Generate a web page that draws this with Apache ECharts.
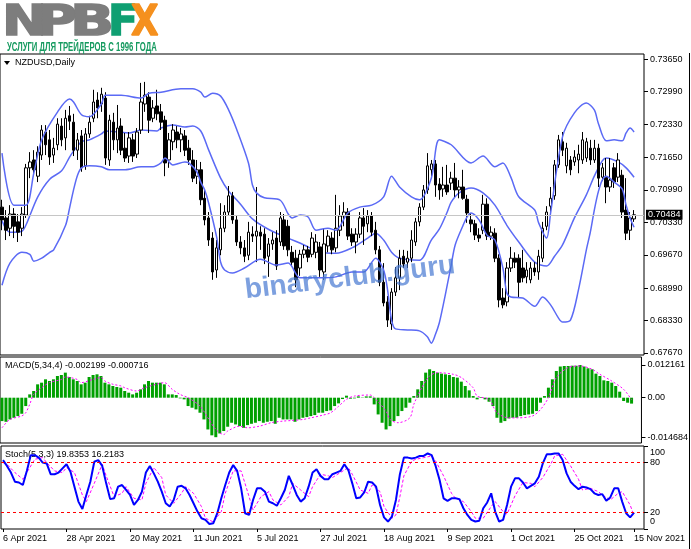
<!DOCTYPE html>
<html><head><meta charset="utf-8">
<script src="https://cdn.jsdelivr.net/npm/echarts@6/dist/echarts.min.js"></script>
<style>html,body{margin:0;padding:0;background:#fff}#c{width:691px;height:549px}</style>
</head><body><div id="c"></div>
<script>
// ---------- data ----------
const tickDates = ['6 Apr 2021','28 Apr 2021','20 May 2021','11 Jun 2021','5 Jul 2021','27 Jul 2021','18 Aug 2021','9 Sep 2021','1 Oct 2021','25 Oct 2021','15 Nov 2021'];
const tickIdx = [0,16,32,48,64,80,96,112,128,144,159];

const open = [.7064,.7042,.7021,.7050,.7034,.7021,.7048,.7144,.7160,.7127,
.7170,.7217,.7201,.7170,.7191,.7229,.7205,.7250,.7237,.7180,
.7209,.7148,.7213,.7245,.7282,.7274,.7286,.7160,.7237,.7201,
.7229,.7184,.7168,.7201,.7172,.7221,.7274,.7288,.7245,.7270,
.7258,.7241,.7160,.7197,.7217,.7201,.7209,.7184,.7160,.7127,
.7140,.7082,.7042,.7001,.6936,.6977,.7021,.7054,.7087,.7038,
.6993,.6981,.6966,.7009,.7005,.7013,.7009,.6964,.6989,.7001,
.6993,.7038,.7025,.6972,.6960,.6940,.6968,.6977,.6968,.6972,
.6983,.6932,.6985,.7001,.6981,.7017,.7046,.7054,.7009,.6993,
.7009,.7042,.7030,.7046,.7017,.6977,.6911,.6871,.6826,.6891,
.6920,.6964,.6952,.6960,.6993,.7034,.7064,.7099,.7140,.7152,
.7111,.7101,.7109,.7113,.7123,.7099,.7105,.7080,.7038,.7030,
.7007,.7017,.7070,.7005,.7011,.6960,.6879,.6871,.6940,.6960,
.6960,.6940,.6922,.6916,.6940,.6932,.6960,.7025,.7066,.7087,
.7150,.7197,.7148,.7160,.7156,.7160,.7160,.7164,.7184,.7160,
.7184,.7125,.7125,.7105,.7144,.7125,.7129,.7058,.7017,.7040];
const close = [.7038,.7017,.7050,.7025,.7013,.7050,.7144,.7156,.7140,.7176,
.7221,.7191,.7166,.7184,.7233,.7201,.7245,.7239,.7180,.7201,
.7144,.7213,.7237,.7278,.7266,.7294,.7164,.7241,.7201,.7225,
.7180,.7164,.7205,.7168,.7217,.7278,.7292,.7241,.7266,.7254,
.7237,.7154,.7201,.7221,.7201,.7213,.7180,.7160,.7123,.7140,
.7079,.7038,.6997,.6932,.6981,.7021,.7054,.7087,.7038,.6993,
.6981,.6964,.7013,.7005,.7015,.7005,.6960,.6989,.6997,.6944,
.7042,.6985,.6977,.6952,.6916,.6968,.6977,.6962,.7001,.6993,
.6936,.6989,.7005,.6977,.7021,.7046,.7054,.7005,.6993,.7009,
.7042,.7025,.7046,.7013,.6977,.6911,.6869,.6834,.6891,.6920,
.6960,.6948,.6960,.6997,.7034,.7064,.7099,.7148,.7152,.7109,
.7099,.7109,.7095,.7123,.7099,.7105,.7082,.7052,.7030,.7007,
.7001,.7070,.7005,.7013,.6960,.6875,.6865,.6940,.6960,.6952,
.6911,.6920,.6936,.6940,.6932,.6964,.7021,.7054,.7082,.7150,
.7201,.7180,.7184,.7140,.7166,.7172,.7201,.7197,.7160,.7184,
.7123,.7144,.7105,.7119,.7115,.7160,.7054,.7011,.7042,.70484];
const high = [.7079,.7058,.7068,.7062,.7050,.7064,.7152,.7176,.7180,.7188,
.7231,.7231,.7221,.7205,.7245,.7245,.7262,.7270,.7254,.7215,
.7221,.7225,.7250,.7303,.7298,.7307,.7298,.7252,.7256,.7272,
.7245,.7215,.7217,.7213,.7225,.7317,.7319,.7298,.7282,.7303,
.7274,.7250,.7215,.7233,.7229,.7225,.7221,.7201,.7180,.7160,
.7156,.7099,.7054,.7013,.6997,.7072,.7068,.7107,.7095,.7048,
.7005,.6997,.7034,.7025,.7105,.7025,.7021,.7001,.7013,.7017,
.7054,.7050,.7038,.6985,.6977,.6977,.6987,.6985,.7013,.7009,
.6993,.7021,.7017,.7013,.7089,.7068,.7074,.7062,.7021,.7021,
.7054,.7062,.7058,.7054,.7034,.6985,.6950,.6883,.6899,.6942,
.6977,.6977,.6975,.7017,.7042,.7072,.7109,.7174,.7160,.7160,
.7123,.7146,.7150,.7136,.7154,.7119,.7140,.7089,.7052,.7038,
.7021,.7089,.7082,.7025,.7021,.6968,.6899,.6952,.6983,.6972,
.6968,.6977,.6952,.6952,.6952,.6977,.7034,.7066,.7105,.7160,
.7211,.7217,.7195,.7168,.7180,.7191,.7217,.7205,.7201,.7201,
.7193,.7154,.7164,.7164,.7154,.7174,.7140,.7123,.7054,.7058];
const low = [.7017,.6997,.7005,.7001,.6993,.7005,.7042,.7123,.7127,.7115,
.7160,.7170,.7150,.7154,.7180,.7188,.7180,.7221,.7168,.7160,
.7136,.7140,.7205,.7237,.7245,.7258,.7150,.7148,.7180,.7174,
.7170,.7156,.7154,.7156,.7164,.7213,.7258,.7215,.7237,.7241,
.7221,.7127,.7144,.7180,.7184,.7176,.7168,.7150,.7115,.7111,
.7068,.7027,.6985,.6916,.6920,.6966,.7013,.7046,.7030,.6985,
.6968,.6952,.6956,.6993,.6952,.6977,.6948,.6922,.6977,.6936,
.6985,.6977,.6964,.6944,.6901,.6924,.6960,.6952,.6962,.6960,
.6922,.6916,.6972,.6968,.6972,.7005,.7025,.6997,.6985,.6970,
.7001,.6987,.7013,.7005,.6968,.6903,.6862,.6820,.6814,.6883,
.6895,.6940,.6940,.6952,.6985,.7025,.7058,.7091,.7123,.7085,
.7079,.7085,.7089,.7099,.7085,.7082,.7079,.7032,.7013,.6997,
.6993,.7009,.6997,.6997,.6952,.6860,.6858,.6862,.6932,.6940,
.6879,.6911,.6909,.6909,.6924,.6916,.6952,.7017,.7052,.7079,
.7144,.7168,.7133,.7129,.7148,.7133,.7152,.7156,.7150,.7154,
.7105,.7117,.7072,.7095,.7103,.7115,.7042,.6997,.6997,.7034];

// Bollinger bands: [bar index, price]
const bbUpper = [[0,.7174],[3,.7068],[6,.7068],[8,.7133],[10,.7201],[14,.7258],[17,.7284],[18,.7278],[20,.7252],[22,.7248],[25,.7274],[26,.7292],[30,.7292],[35,.7286],[37,.7296],[40,.7298],[45,.7305],[48,.7305],[50,.7298],[51,.7288],[53,.7296],[55,.7290],[57,.7262],[59,.7223],[62,.7154],[63,.7109],[64,.7093],[66,.7083],[70,.7078],[72,.7050],[73,.7042],[75,.7048],[77,.7044],[79,.7017],[82,.7021],[84,.7017],[87,.7052],[90,.7064],[93,.7068],[96,.7085],[98,.7127],[100,.7105],[103,.7085],[105,.7079],[108,.7123],[110,.7201],[113,.7191],[118,.7154],[121,.7168],[124,.7146],[126,.7154],[128,.7125],[130,.7085],[134,.7058],[135,.7032],[137,.7001],[138,.7052],[141,.7207],[144,.7256],[147,.7276],[149,.7262],[150,.7235],[152,.7199],[154,.7201],[156,.7199],[157,.7215],[158,.7225],[159,.7217]];
const bbMid = [[0,.7036],[2,.7013],[5,.7015],[6,.7027],[9,.7085],[12,.7121],[15,.7138],[17,.7166],[18,.7178],[20,.7197],[22,.7201],[25,.7213],[26,.7219],[29,.7217],[32,.7215],[35,.7221],[39,.7219],[40,.7225],[43,.7231],[46,.7227],[48,.7229],[50,.7219],[52,.7180],[55,.7123],[57,.7097],[60,.7070],[63,.7040],[67,.7019],[72,.7001],[76,.6987],[80,.6972],[84,.6970],[88,.6981],[92,.7001],[94,.7011],[96,.6997],[98,.6972],[100,.6960],[105,.6956],[108,.6997],[110,.7019],[112,.7054],[113,.7074],[115,.7093],[118,.7103],[121,.7093],[124,.7068],[127,.7027],[130,.6993],[134,.6952],[137,.6944],[139,.6964],[141,.6987],[144,.7042],[147,.7089],[149,.7127],[151,.7158],[152,.7164],[155,.7156],[157,.7144],[159,.7125]];
const bbLower = [[0,.6905],[2,.6950],[5,.6972],[7,.6968],[8,.6954],[10,.6960],[12,.6972],[13,.6977],[16,.7027],[17,.7062],[18,.7099],[19,.7129],[20,.7144],[22,.7148],[25,.7146],[27,.7140],[31,.7140],[35,.7146],[38,.7146],[40,.7154],[41,.7164],[43,.7150],[46,.7156],[47,.7154],[49,.7136],[50,.7115],[51,.7099],[52,.7072],[54,.7003],[55,.6952],[56,.6936],[58,.6930],[61,.6940],[65,.6958],[69,.6946],[72,.6950],[75,.6920],[80,.6920],[84,.6922],[88,.6932],[91,.6932],[94,.6960],[96,.6936],[97,.6895],[98,.6834],[99,.6816],[102,.6814],[105,.6812],[107,.6800],[108,.6787],[109,.6804],[110,.6828],[111,.6865],[112,.6905],[113,.6946],[114,.6987],[116,.7027],[117,.7044],[118,.7052],[120,.7038],[122,.7007],[124,.6997],[126,.6940],[127,.6889],[128,.6881],[131,.6879],[134,.6862],[136,.6881],[138,.6865],[140,.6838],[141,.6830],[143,.6834],[145,.6895],[147,.6977],[148,.7013],[149,.7058],[150,.7095],[151,.7119],[152,.7127],[154,.7115],[156,.7101],[157,.7068],[158,.7042],[159,.7023]];

const macdHist = [-0.0087,-0.00895,-0.00808,-0.00746,-0.00684,-0.00597,-0.00311,0.00124,0.00249,0.00497,
0.00559,0.00684,0.00622,0.00684,0.00808,0.00845,0.00932,0.00771,0.00684,0.00622,
0.00497,0.00559,0.00771,0.00845,0.0087,0.00808,0.00559,0.00497,0.00435,0.00398,
0.00373,0.00249,0.00186,0.00124,0.00186,0.00311,0.00497,0.00622,0.00559,0.00559,
0.00559,0.00497,0.00124,0.00124,0.00099,-0.00025,-0.00062,-0.00311,-0.00373,-0.00435,
-0.00559,-0.00808,-0.01181,-0.0140,-0.014684,-0.0133,-0.0124,-0.0108,-0.00932,-0.00994,
-0.01057,-0.01119,-0.01019,-0.0097,-0.00932,-0.0087,-0.00932,-0.00895,-0.0087,-0.0097,
-0.00746,-0.00808,-0.00808,-0.00808,-0.00895,-0.00808,-0.00746,-0.00721,-0.00684,-0.00646,
-0.00559,-0.00559,-0.00497,-0.00472,-0.00311,-0.00211,-0.0005,0.00075,-0.00037,-0.00025,
0.0005,0.00012,0.0005,0.0005,-0.00249,-0.00622,-0.00932,-0.01181,-0.01057,-0.0087,
-0.00684,-0.00497,-0.00373,-0.00186,0.00062,0.00311,0.00622,0.00932,0.01057,0.00994,
0.00932,0.00895,0.0087,0.00845,0.00771,0.00746,0.00597,0.00435,0.00273,0.00062,
-0.00062,0.00025,-0.00062,-0.00149,-0.00311,-0.00746,-0.00932,-0.0087,-0.00771,-0.00746,
-0.00746,-0.00684,-0.00646,-0.00622,-0.00597,-0.00497,-0.00186,0.00062,0.00373,0.00684,
0.00994,0.0116,0.0118,0.0118,0.0119,0.0119,0.012161,0.0116,0.01094,0.01057,
0.00895,0.00808,0.00646,0.00622,0.00559,0.00435,0.00224,-0.00124,-0.00186,-0.002199];
const macdSignal = [[0,-0.0112],[2,-0.0081],[5,-0.0068],[6,-0.0056],[7,-0.0025],[8,0.0012],[10,0.0037],[12,0.0056],[15,0.0068],[16,0.0077],[19,0.0068],[20,0.0056],[23,0.0068],[25,0.0075],[26,0.0062],[28,0.0050],[30,0.0044],[31,0.0037],[34,0.0025],[36,0.0037],[39,0.0050],[41,0.0056],[43,0.0031],[45,0.0012],[47,0],[50,-0.0031],[52,-0.0075],[54,-0.0118],[56,-0.0137],[57,-0.0124],[60,-0.0106],[62,-0.0112],[65,-0.0106],[68,-0.0093],[71,-0.0087],[73,-0.0085],[76,-0.0081],[78,-0.0075],[81,-0.0065],[83,-0.0056],[85,-0.0032],[87,-0.0006],[89,0.0006],[93,0.0010],[94,0],[97,-0.0050],[98,-0.0081],[100,-0.0093],[103,-0.0075],[104,-0.0025],[106,0.0037],[108,0.0081],[110,0.0093],[114,0.0087],[116,0.0075],[119,0.0037],[120,0.0006],[123,-0.0006],[125,-0.0056],[128,-0.0075],[130,-0.0075],[134,-0.0068],[136,-0.0044],[138,0],[140,0.0075],[143,0.0112],[146,0.0118],[149,0.0106],[151,0.0087],[154,0.0062],[157,0.0031],[159,-0.000716]];

const stochMain = [83,76,68,57,56,53,70,89,89,86,
80,79,66,66,68,73,78,69,51,33,
24,41,57,81,83,76,55,36,37,51,
53,47,41,29,35,45,68,76,67,57,
45,31,27,35,51,52,49,41,31,21,
13,11,6,7,19,37,53,68,77,70,
49,19,17,35,49,49,45,33,31,28,
37,47,64,53,41,33,37,51,68,72,
64,60,60,66,68,70,78,71,55,37,
38,44,57,56,51,29,14,9,15,35,
66,86,86,85,86,88,88,91,89,76,
59,37,34,37,37,36,25,17,11,9,
10,25,32,43,21,9,11,29,51,61,
61,56,49,52,55,63,79,90,90,91,
91,83,67,57,52,48,51,50,48,43,
41,42,34,38,49,49,33,19,14,19.8353];
const stochSignal = [[0,80],[1,78],[3,68],[5,60],[6,68],[8,84],[10,86],[11,80],[13,70],[15,68],[16,74],[18,68],[20,41],[21,33],[23,55],[25,78],[26,64],[28,39],[30,43],[31,51],[33,37],[35,35],[36,55],[38,74],[40,62],[41,41],[43,31],[45,43],[46,51],[48,43],[50,27],[51,13],[53,8.5],[55,21],[56,43],[58,70],[60,70],[62,39],[63,23],[65,39],[67,45],[68,35],[70,29],[72,39],[73,55],[75,47],[77,39],[78,51],[80,66],[82,64],[83,62],[85,68],[87,74],[88,66],[90,47],[92,43],[93,53],[95,45],[96,27],[98,13],[99,17],[100,39],[101,64],[103,82],[104,84],[106,86],[108,88],[109,82],[111,64],[113,43],[114,37],[116,33],[118,21],[119,13],[121,13],[123,27],[124,33],[126,21],[127,18],[129,40],[131,56],[133,55],[134,51],[136,62],[138,78],[139,88],[141,90],[143,76],[145,60],[146,47],[148,49],[150,45],[151,41],[153,35],[155,43],[156,45],[158,29],[159,16.2183]];

const priceTicks = [0.7365,0.7299,0.7233,0.7165,0.7099,0.7033,0.6967,0.6899,0.6833,0.6767];
const lastPrice = 0.70484;
const macdTicks = [0.012161, 0, -0.014684];
const stochTicks = [100, 80, 20, 0];
const stochLevels = [20, 80];

// ---------- build ----------
const NCAT = 162; // 160 trading days + right margin
const cats = [];
for (let i = 0; i < NCAT; i++) cats.push('');
tickIdx.forEach((k, j) => { cats[k] = tickDates[j]; });
const candles = open.map((o, i) => [o, close[i], low[i], high[i]]);
const isTick = (i) => tickIdx.indexOf(i) >= 0;

const FONT = 'Liberation Sans';
const lblBase = { fontFamily: FONT, fontSize: 9, color: '#000' };
const gridBase = { left: 0, right: 47, show: true, borderColor: '#000', borderWidth: 1, backgroundColor: '#fff' };

const hiddenX = (gi) => ({ type: 'category', gridIndex: gi, data: cats, boundaryGap: true,
  axisLine: { show: false }, axisTick: { show: false }, axisLabel: { show: false }, splitLine: { show: false } });

const logoFont = 'bold 42px "DejaVu Sans"';
const letter = (t, x, sx, fill) => ({ type: 'text', x: x, y: 3, scaleX: sx,
  style: { text: t, font: logoFont, fill: fill, stroke: fill, lineWidth: 1.5, verticalAlign: 'top' } });

const chart = echarts.init(document.getElementById('c'), null, { renderer: 'canvas' });
chart.setOption({
  animation: false,
  backgroundColor: '#fff',
  grid: [
    Object.assign({ top: 54, height: 301 }, gridBase),
    Object.assign({ top: 357, height: 86 }, gridBase),
    Object.assign({ top: 446, height: 83 }, gridBase)
  ],
  xAxis: [hiddenX(0), hiddenX(1), {
    type: 'category', gridIndex: 2, data: cats, boundaryGap: true,
    axisLine: { show: false },
    axisTick: { show: true, interval: (i) => isTick(i), alignWithLabel: true, length: 3, lineStyle: { color: '#000' } },
    axisLabel: Object.assign({ interval: (i) => isTick(i), align: 'left', margin: 5, hideOverlap: false }, lblBase),
    splitLine: { show: false }
  }],
  yAxis: [
    { type: 'value', gridIndex: 0, position: 'right', min: 0.67629, max: 0.73758,
      axisLine: { show: false }, splitLine: { show: false },
      axisTick: { show: true, length: 4, customValues: priceTicks, lineStyle: { color: '#000' } },
      axisLabel: Object.assign({ customValues: priceTicks, margin: 6, formatter: (v) => v.toFixed(5) }, lblBase) },
    { type: 'value', gridIndex: 1, position: 'right', min: -0.01685, max: 0.01514,
      axisLine: { show: false }, splitLine: { show: false },
      axisTick: { show: true, length: 4, customValues: macdTicks, lineStyle: { color: '#000' } },
      axisLabel: Object.assign({ customValues: macdTicks, margin: 6, formatter: (v) => v === 0 ? '0.00' : v.toFixed(6) }, lblBase) },
    { type: 'value', gridIndex: 2, position: 'right', min: 0, max: 100,
      axisLine: { show: false }, splitLine: { show: false },
      axisTick: { show: true, length: 4, customValues: stochTicks, lineStyle: { color: '#000' } },
      axisLabel: Object.assign({ customValues: stochTicks, margin: 6,
        formatter: (v) => v === 100 ? '{a|100}' : (v === 0 ? '{b|0}' : String(v)),
        rich: { a: { padding: [14, 0, 0, 0], fontFamily: FONT, fontSize: 9, color: '#000' },
                b: { padding: [0, 0, 14, 0], fontFamily: FONT, fontSize: 9, color: '#000' } } }, lblBase) }
  ],
  series: [
    { type: 'line', xAxisIndex: 0, yAxisIndex: 0, data: bbMid, showSymbol: false, smooth: 0.3,
      lineStyle: { color: '#5b6af5', width: 1.5 }, z: 1,
      markLine: { symbol: 'none', silent: true, animation: false, precision: 5,
        lineStyle: { color: '#c6c6c6', width: 1, type: 'solid' },
        label: { show: true, position: 'end', distance: 2, formatter: lastPrice.toFixed(5),
          backgroundColor: '#000', color: '#fff', padding: [1, 2, 0, 2], fontFamily: FONT, fontSize: 9 },
        data: [{ yAxis: lastPrice }] } },
    { type: 'candlestick', xAxisIndex: 0, yAxisIndex: 0, data: candles, barWidth: 3, z: 3,
      itemStyle: { color: '#ffffff', color0: '#000000', borderColor: '#000000', borderColor0: '#000000', borderWidth: 1 } },
    { type: 'line', xAxisIndex: 0, yAxisIndex: 0, data: bbUpper, showSymbol: false, smooth: 0.3, z: 4,
      lineStyle: { color: '#5b6af5', width: 1.5 } },
    { type: 'line', xAxisIndex: 0, yAxisIndex: 0, data: bbLower, showSymbol: false, smooth: 0.3, z: 4,
      lineStyle: { color: '#5b6af5', width: 1.5 } },
    { type: 'bar', xAxisIndex: 1, yAxisIndex: 1, data: macdHist, barWidth: 3, itemStyle: { color: '#00a000' } },
    { type: 'line', xAxisIndex: 1, yAxisIndex: 1, data: macdSignal, showSymbol: false, smooth: 0.3,
      lineStyle: { color: '#ff00ff', width: 1, type: [2, 2] } },
    { type: 'line', xAxisIndex: 2, yAxisIndex: 2, data: stochSignal, showSymbol: false,
      lineStyle: { color: '#ff00ff', width: 1, type: [3, 2] } },
    { type: 'line', xAxisIndex: 2, yAxisIndex: 2, data: stochMain, showSymbol: false,
      lineStyle: { color: '#0000ff', width: 2 },
      markLine: { symbol: 'none', silent: true, animation: false, precision: 2, label: { show: false },
        lineStyle: { color: '#ff0000', width: 1, type: [3, 3] },
        data: stochLevels.map((v) => ({ yAxis: v })) } }
  ],
  graphic: [
    letter('N', 2, 1.28, '#7d7d7d'),
    letter('P', 37, 1.3, '#7d7d7d'),
    letter('B', 70, 1.38, '#7d7d7d'),
    letter('F', 108, 1.05, '#0f9f72'),
    letter('X', 131, 0.85, '#f5901e'),
    { type: 'text', x: 7, y: 42, scaleX: 0.645, style: { text: 'УСЛУГИ ДЛЯ ТРЕЙДЕРОВ С 1996 ГОДА', font: 'bold 12px "Liberation Sans"', fill: '#159a5f', verticalAlign: 'top' } },
    { type: 'polygon', shape: { points: [[4, 61], [10, 61], [7, 65]] }, style: { fill: '#000' } },
    { type: 'text', x: 15, y: 58, style: { text: 'NZDUSD,Daily', font: '9px "Liberation Sans"', fill: '#000', verticalAlign: 'top' } },
    { type: 'text', x: 5, y: 361, style: { text: 'MACD(5,34,4) -0.002199 -0.000716', font: '9px "Liberation Sans"', fill: '#000', verticalAlign: 'top' } },
    { type: 'text', x: 5, y: 450, style: { text: 'Stoch(5,3,3) 19.8353 16.2183', font: '9px "Liberation Sans"', fill: '#000', verticalAlign: 'top' } },
    { type: 'line', shape: { x1: 689.5, y1: 53, x2: 689.5, y2: 549 }, style: { stroke: '#000', lineWidth: 1 } },
    { type: 'text', x: 350, y: 278, rotation: 0.12, z: 100,
      style: { text: 'binaryclub.guru', font: 'bold 28px "Liberation Sans"', fill: 'rgba(70,120,210,0.7)', align: 'center', verticalAlign: 'middle' } }
  ]
});
</script></body></html>
